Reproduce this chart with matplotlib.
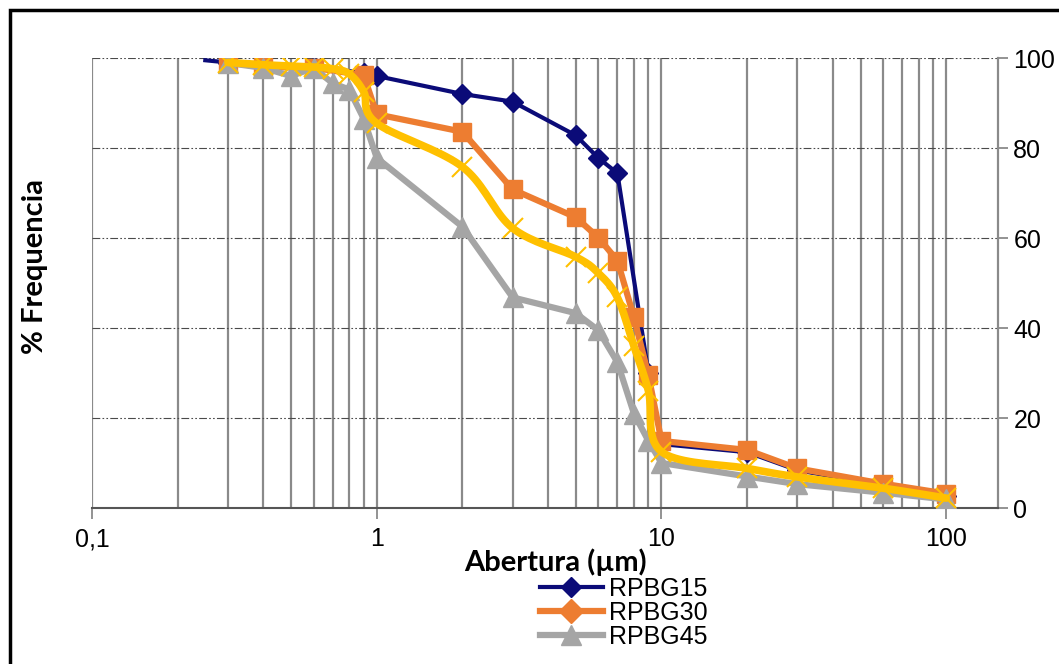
import numpy as np
import matplotlib.pyplot as plt
from matplotlib.lines import Line2D
from matplotlib.patches import Rectangle
from matplotlib.ticker import FixedLocator, LogLocator, NullFormatter

# abertura (um) e % frequencia de cada amostra
x_15 = [0.25, 0.3, 0.4, 0.6, 0.9, 1, 2, 3, 5, 6, 7, 9, 10, 20, 30, 60, 100]
y_15 = [99.5, 99.0, 98.4, 98.0, 96.7, 96.0, 92.0, 90.3, 82.8, 77.8, 74.4, 30.0, 14.2, 12.4, 8.4, 5.0, 2.6]

x_30 = [0.3, 0.4, 0.6, 0.9, 1, 2, 3, 5, 6, 7, 8, 9, 10, 20, 30, 60, 100]
y_30 = [99.0, 98.0, 97.8, 96.2, 87.5, 83.6, 70.8, 64.6, 60.1, 55.0, 42.4, 29.5, 14.9, 12.9, 8.8, 5.4, 3.2]

x_45 = [0.3, 0.4, 0.5, 0.6, 0.7, 0.8, 0.9, 1, 2, 3, 5, 6, 7, 8, 9, 10, 20, 30, 60, 100]
y_45 = [98.9, 97.8, 96.0, 97.8, 94.4, 93.0, 86.5, 77.8, 62.5, 46.8, 43.3, 39.5, 32.4, 21.0, 14.9, 10.0, 7.0, 5.3, 3.4, 1.9]

x_60 = [0.3, 0.4, 0.5, 0.6, 0.7, 0.8, 0.9, 1, 2, 3, 5, 6, 7, 8, 9, 10, 20, 30, 60, 100]
y_60 = [99.0, 98.5, 98.2, 98.0, 97.6, 96.5, 92.5, 85.5, 75.8, 62.2, 55.8, 52.2, 46.8, 36.0, 26.0, 12.5, 8.8, 6.9, 4.4, 2.2]

x_ticks = [0.1, 1, 10, 100]
x_ticklabels = ["0,1", "1", "10", "100"]
y_ticks = [0, 20, 40, 60, 80, 100]

NAVY = "#0b0b78"
ORANGE = "#ed7d31"
GRAY = "#a5a5a5"
YELLOW = "#ffc000"


def smooth(xs, ys, n=20):
    # courbe lissee type Excel (Catmull-Rom) dans l'espace log-x
    px = np.log10(xs)
    py = np.asarray(ys, dtype=float)
    P = np.column_stack([px, py])
    P = np.vstack([P[0], P, P[-1]])
    out = []
    t = np.linspace(0, 1, n)[:, None]
    for i in range(1, len(P) - 2):
        p0, p1, p2, p3 = P[i - 1], P[i], P[i + 1], P[i + 2]
        c1 = p1 + (p2 - p0) / 6
        c2 = p2 - (p3 - p1) / 6
        seg = ((1 - t) ** 3) * p1 + 3 * ((1 - t) ** 2) * t * c1 + 3 * (1 - t) * t ** 2 * c2 + t ** 3 * p2
        out.append(seg)
    out = np.vstack(out)
    return 10 ** out[:, 0], out[:, 1]


plt.rcParams['font.family'] = ['Liberation Sans', 'DejaVu Sans']

fig = plt.figure(figsize=(10.59, 6.64), dpi=100)
ax = fig.add_axes([92 / 1059, 1 - 508 / 664, (998 - 92) / 1059, (508 - 58) / 664])

ax.set_xscale('log')
ax.set_xlim(0.1, 152)
ax.set_ylim(0, 100)

# grille
ax.xaxis.set_major_locator(FixedLocator(x_ticks))
ax.xaxis.set_minor_locator(LogLocator(base=10, subs=np.arange(2, 10)))
ax.xaxis.set_minor_formatter(NullFormatter())
ax.set_xticklabels(x_ticklabels)
ax.grid(True, which='both', axis='x', color='#8a8a8a', linewidth=1.6)
ax.grid(True, which='major', axis='y', color='#4a4a4a', linewidth=0.8,
        linestyle=(0, (7, 2, 1.5, 2, 1.5, 2)))
ax.set_axisbelow(True)

ax.yaxis.tick_right()
ax.set_yticks(y_ticks)
ax.tick_params(axis='y', which='major', length=7, width=1.2, color='#808080', labelsize=18, pad=4)
ax.tick_params(axis='x', which='major', length=8, width=1.2, color='#808080', labelsize=18, pad=6)
ax.tick_params(axis='x', which='minor', length=0)

for s in ['left', 'top']:
    ax.spines[s].set_visible(False)
ax.spines['right'].set_color('#8a8a8a')
ax.spines['right'].set_linewidth(1.6)
ax.spines['bottom'].set_color('#555555')
ax.spines['bottom'].set_linewidth(1.5)

# series
ax.plot(x_15, y_15, color=NAVY, lw=3, marker='D', ms=10, markevery=slice(1, None), zorder=3)
ax.plot(x_30, y_30, color=ORANGE, lw=4.5, marker='s', ms=13, zorder=4)
ax.plot(x_45, y_45, color=GRAY, lw=4.5, marker='^', ms=14, zorder=5)
sx, sy = smooth(x_60, y_60)
ax.plot(sx, sy, color=YELLOW, lw=5.5, zorder=6, solid_capstyle='round')
ax.plot(x_60, y_60, ls='none', marker='x', ms=14, mew=1.5, color=YELLOW, zorder=6)

fig.text(555 / 1059, 1 - 562 / 664, "Abertura (µm)", ha='center', va='center',
         fontsize=21, fontweight='bold', family=['Lato', 'DejaVu Sans'])
fig.text(35 / 1059, 1 - 266 / 664, "% Frequencia", ha='center', va='center', rotation=90,
         fontsize=21, fontweight='bold', family=['Lato', 'DejaVu Sans'])

handles = [
    Line2D([], [], color=NAVY, lw=3, marker='D', ms=10),
    Line2D([], [], color=ORANGE, lw=4.5, marker='D', ms=12),
    Line2D([], [], color=GRAY, lw=4.5, marker='^', ms=15),
]
fig.legend(handles, ["RPBG15", "RPBG30", "RPBG45"], loc='upper left',
           bbox_to_anchor=(540 / 1059, 1 - 577 / 664), frameon=False, fontsize=18,
           handlelength=2.5, handletextpad=0.25, labelspacing=0.0, borderpad=0, borderaxespad=0)

# cadre exterieur
fig.add_artist(Rectangle((10 / 1059, -0.1), 1.2, 1 - 10 / 664 + 0.1, transform=fig.transFigure,
                         fill=False, lw=2.5, edgecolor='black'))

fig.savefig("out.png", dpi=100)
